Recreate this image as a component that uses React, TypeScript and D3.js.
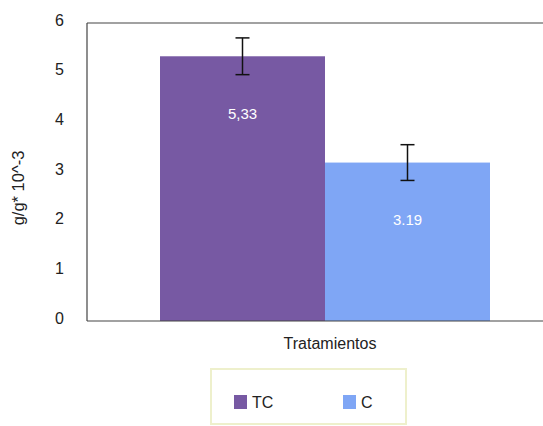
import React from "react";
import * as d3 from "d3";

const categories = ["TC", "C"];
const values = [5.33, 3.19];
const errors = [0.37, 0.36];
const valueLabels = ["5,33", "3.19"];
const colors = ["#7759a3", "#7fa6f5"];
const yTicks = [0, 1, 2, 3, 4, 5, 6];

export default function App() {
  const W = 543, H = 426;
  const left = 87, top = 23, bottom = 321;
  const y = d3.scaleLinear().domain([0, 6]).range([bottom, top]);
  const x = d3.scaleBand().domain(categories).range([160, 490]).padding(0);
  const font = "Liberation Sans, Arial, sans-serif";
  return (
    <svg width={W} height={H} style={{ position: "absolute", left: 0, top: 0, background: "#fff" }} fontFamily={font}>
      {categories.map((c, i) => (
        <rect key={c} x={x(c)} y={y(values[i])} width={x.bandwidth()} height={y(0) - y(values[i])} fill={colors[i]} />
      ))}
      <line x1={left} y1={top} x2={left} y2={bottom} stroke="#444" strokeWidth={1.2} />
      <line x1={left} y1={top} x2={W} y2={top} stroke="#444" strokeWidth={1.2} />
      <line x1={left} y1={bottom} x2={W} y2={bottom} stroke="#444" strokeWidth={1.2} />
      {yTicks.map((t) => (
        <text key={t} x={64} y={y(t) - 3} textAnchor="end" dominantBaseline="central" fontSize={16} fill="#222">{t}</text>
      ))}
      {categories.map((c, i) => {
        const cx = (x(c) as number) + x.bandwidth() / 2;
        const y1 = y(values[i] + errors[i]);
        const y2 = y(values[i] - errors[i]);
        return (
          <g key={c + "e"} stroke="#111" strokeWidth={1.5}>
            <line x1={cx} x2={cx} y1={y1} y2={y2} />
            <line x1={cx - 7} x2={cx + 7} y1={y1} y2={y1} />
            <line x1={cx - 7} x2={cx + 7} y1={y2} y2={y2} />
          </g>
        );
      })}
      {categories.map((c, i) => {
        const cx = (x(c) as number) + x.bandwidth() / 2;
        return (
          <text key={c + "l"} x={cx} y={y(values[i]) + 57} textAnchor="middle" dominantBaseline="central" fontSize={15} fill="#fff">{valueLabels[i]}</text>
        );
      })}
      <text transform={`translate(18,188) rotate(-90)`} textAnchor="middle" dominantBaseline="central" fontSize={16.5} fill="#222">g/g* 10^-3</text>
      <text x={330} y={343} textAnchor="middle" dominantBaseline="central" fontSize={16} fill="#222">Tratamientos</text>
      <rect x={211} y={369} width={195} height={55} fill="#fff" stroke="#eef0cc" strokeWidth={2} />
      {categories.map((c, i) => {
        const lx = i === 0 ? 234 : 343;
        return (
          <g key={c + "leg"}>
            <rect x={lx} y={395} width={13} height={14} fill={colors[i]} />
            <text x={lx + 18} y={402} dominantBaseline="central" fontSize={16} fill="#222">{c}</text>
          </g>
        );
      })}
    </svg>
  );
}
